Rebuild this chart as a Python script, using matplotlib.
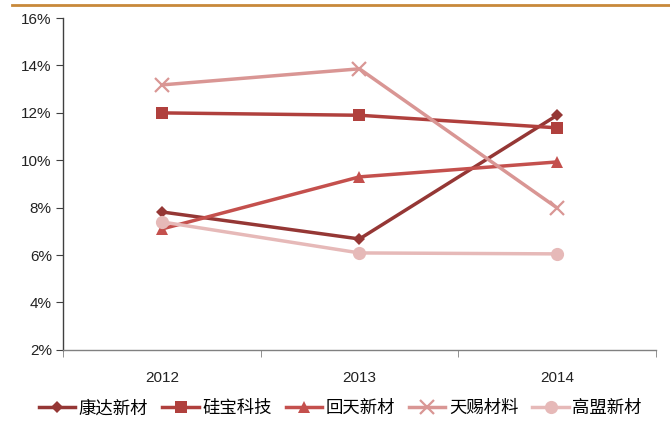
import matplotlib
matplotlib.use("Agg")
import matplotlib.pyplot as plt
from matplotlib.lines import Line2D
import numpy as np

plt.rcParams['font.family'] = ['Noto Sans CJK SC', 'DejaVu Sans']

years = ['2012', '2013', '2014']
kangda = [7.82, 6.68, 11.9]
guibao = [12.0, 11.9, 11.37]
huitian = [7.1, 9.3, 9.93]
tianci = [13.18, 13.86, 7.99]
gaomeng = [7.4, 6.09, 6.05]
names = ['康达新材', '硅宝科技', '回天新材', '天赐材料', '高盟新材']
yticks = [2, 4, 6, 8, 10, 12, 14, 16]

series = [kangda, guibao, huitian, tianci, gaomeng]
colors = ['#953735', '#B0403D', '#C4504D', '#D99694', '#E6B9B8']
markers = ['D', 's', '^', 'x', 'o']
msizes = [6.5, 8.5, 8.5, 9.5, 9.5]

fig = plt.figure(figsize=(6.7, 4.21), dpi=100)
ax = fig.add_axes([0.094, 0.169, 0.885, 0.788])

x = np.arange(len(years))
for vals, c, m, ms, n in zip(series, colors, markers, msizes, names):
    kw = dict(markeredgewidth=1.6) if m == 'x' else dict(markeredgewidth=0)
    ax.plot(x, vals, color=c, marker=m, markersize=ms, linewidth=2.5, label=n,
            markeredgecolor=c, **kw)

tick_font = ['Liberation Sans', 'DejaVu Sans']
ax.set_xlim(-0.5, 2.5)
ax.set_ylim(2, 16)
ax.set_yticks(yticks)
ax.set_yticklabels([f'{v}%' for v in yticks], fontsize=11, family=tick_font, color='#222222')
ax.set_xticks(x)
ax.set_xticklabels(years, fontsize=11, family=tick_font, color='#222222')
ax.tick_params(axis='x', which='major', length=0, pad=15)
ax.set_xticks([-0.5, 0.5, 1.5, 2.5], minor=True)
ax.tick_params(axis='x', which='minor', length=5, direction='out', color='#808080')
ax.tick_params(axis='y', length=5, direction='out', color='#404040', pad=3)

for s in ['top', 'right']:
    ax.spines[s].set_visible(False)
ax.spines['left'].set_color('#404040')
ax.spines['bottom'].set_color('#808080')
ax.spines['left'].set_linewidth(1.0)
ax.spines['bottom'].set_linewidth(1.0)

leg = fig.legend(loc='center', bbox_to_anchor=(0.508, 0.03), ncol=5, frameon=False,
                 fontsize=12.5, handlelength=2.1, handletextpad=0.2, columnspacing=0.8)

fig.add_artist(Line2D([0.018, 1.0], [0.989, 0.989], color='#C8893A', linewidth=2,
                      transform=fig.transFigure))

fig.savefig('out.png', dpi=100)
